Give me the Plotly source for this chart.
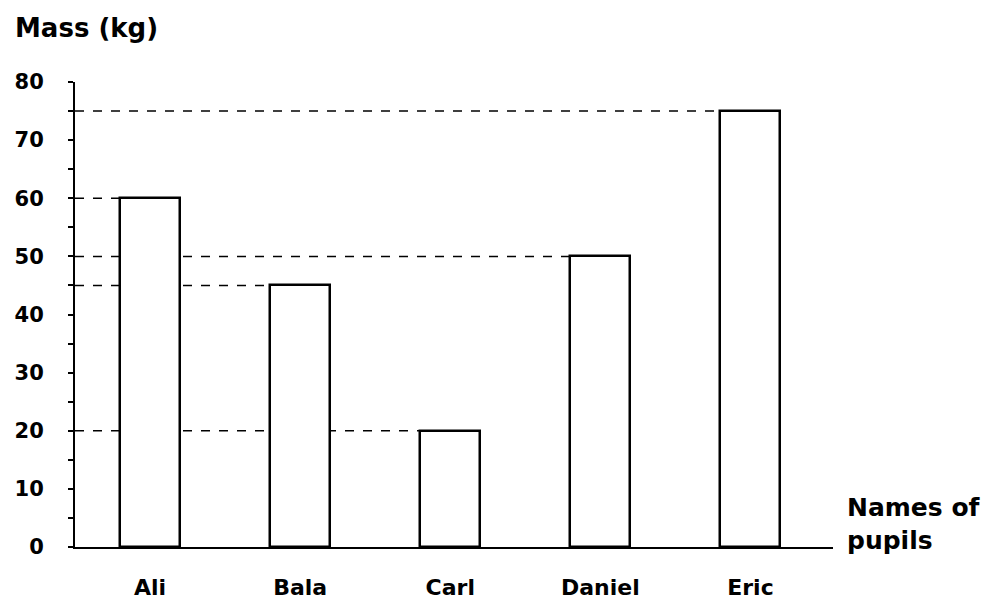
import plotly.graph_objects as go

pupils = ["Ali", "Bala", "Carl", "Daniel", "Eric"]
mass_kg = [60, 45, 20, 50, 75]
y_ticks = [0, 10, 20, 30, 40, 50, 60, 70, 80]

bar_width = 0.4
font_family = "DejaVu Sans, Liberation Sans, Arial, sans-serif"

fig = go.Figure()
fig.add_trace(go.Bar(
    x=list(range(len(pupils))), y=mass_kg, width=bar_width,
    marker=dict(color="white", line=dict(color="black", width=2.5)),
    showlegend=False, hoverinfo="skip",
))

# dashed guide lines from the y axis to each bar's left edge (drawn below the bars)
shapes = []
for i, v in enumerate(mass_kg):
    shapes.append(dict(
        type="line", layer="below", xref="x", yref="y",
        x0=-0.5, x1=i - bar_width / 2, y0=v, y1=v,
        line=dict(color="black", width=1.5, dash="dash"),
    ))

fig.update_layout(
    template="none",
    width=988, height=595,
    margin=dict(l=67, r=163, t=74, b=56, autoexpand=False),
    paper_bgcolor="white", plot_bgcolor="white",
    bargap=0,
    shapes=shapes,
    font=dict(family=font_family, color="black", size=20, weight="bold"),
    xaxis=dict(
        range=[-0.5, 4.55], tickmode="array",
        tickvals=list(range(len(pupils))), ticktext=pupils,
        showgrid=False, zeroline=False, showline=True, automargin=False,
        linecolor="black", linewidth=1.5, ticks="",
        tickfont=dict(size=22, family=font_family, weight="bold", color="black"),
        ticklabelstandoff=20,
    ),
    yaxis=dict(
        range=[0, 80], tickmode="array", tickvals=y_ticks,
        showgrid=False, zeroline=False, showline=True, automargin=False,
        linecolor="black", linewidth=2, ticks="outside", ticklen=5,
        tickcolor="black", tickwidth=1.5,
        minor=dict(dtick=5, ticks="outside", ticklen=5, tickcolor="black", tickwidth=1.5),
        tickfont=dict(size=21, family=font_family, weight="bold", color="black"),
        ticklabelstandoff=20,
    ),
    annotations=[
        dict(text="Mass (kg)", xref="paper", yref="paper", x=-0.082, y=1.116,
             xanchor="left", yanchor="middle", showarrow=False,
             font=dict(size=26, family=font_family, weight="bold", color="black")),
        dict(text="Names of<br>pupils", xref="paper", yref="paper", x=1.016, y=0.05,
             xanchor="left", yanchor="middle", align="left", showarrow=False,
             font=dict(size=25, family=font_family, weight="bold", color="black")),
    ],
)

fig.write_html("out.html")
